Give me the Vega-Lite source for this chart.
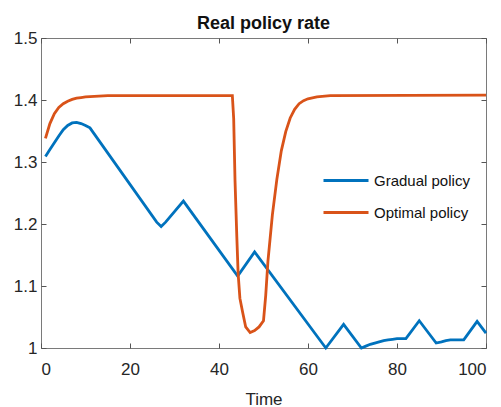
{
  "$schema": "https://vega.github.io/schema/vega-lite/v6.json",
  "width": 445,
  "height": 310,
  "autosize": {"type": "none"},
  "padding": {"left": 41, "top": 38, "right": 15, "bottom": 59},
  "background": "white",
  "config": {
    "font": "Liberation Sans",
    "view": {"stroke": "#7a7a7a", "strokeWidth": 1},
    "axis": {"grid": false, "domain": false, "tickColor": "#555555", "tickWidth": 1, "labelColor": "#262626", "labelFont": "Liberation Sans", "labelFontSize": 17, "titleFont": "Liberation Sans", "titleColor": "#262626", "titleFontSize": 17, "titleFontWeight": "normal"}
  },
  "title": {"text": "Real policy rate", "font": "Liberation Sans", "fontSize": 18, "fontWeight": "bold", "color": "#111111", "anchor": "middle", "baseline": "bottom", "offset": 0, "dy": 22},
  "data": {"values": [
    {"t": 1, "v": 1.309, "s": "Gradual policy"},
    {"t": 2, "v": 1.320, "s": "Gradual policy"},
    {"t": 3, "v": 1.331, "s": "Gradual policy"},
    {"t": 4, "v": 1.342, "s": "Gradual policy"},
    {"t": 5, "v": 1.352, "s": "Gradual policy"},
    {"t": 6, "v": 1.359, "s": "Gradual policy"},
    {"t": 7, "v": 1.363, "s": "Gradual policy"},
    {"t": 8, "v": 1.364, "s": "Gradual policy"},
    {"t": 9, "v": 1.362, "s": "Gradual policy"},
    {"t": 10, "v": 1.359, "s": "Gradual policy"},
    {"t": 11, "v": 1.355, "s": "Gradual policy"},
    {"t": 26, "v": 1.203, "s": "Gradual policy"},
    {"t": 27, "v": 1.196, "s": "Gradual policy"},
    {"t": 28, "v": 1.203, "s": "Gradual policy"},
    {"t": 32, "v": 1.237, "s": "Gradual policy"},
    {"t": 44.2, "v": 1.116, "s": "Gradual policy"},
    {"t": 48, "v": 1.155, "s": "Gradual policy"},
    {"t": 64, "v": 1.0, "s": "Gradual policy"},
    {"t": 68, "v": 1.038, "s": "Gradual policy"},
    {"t": 72, "v": 1.0, "s": "Gradual policy"},
    {"t": 73, "v": 1.003, "s": "Gradual policy"},
    {"t": 74, "v": 1.006, "s": "Gradual policy"},
    {"t": 75, "v": 1.008, "s": "Gradual policy"},
    {"t": 76, "v": 1.010, "s": "Gradual policy"},
    {"t": 77, "v": 1.012, "s": "Gradual policy"},
    {"t": 78, "v": 1.013, "s": "Gradual policy"},
    {"t": 79, "v": 1.014, "s": "Gradual policy"},
    {"t": 80, "v": 1.015, "s": "Gradual policy"},
    {"t": 82, "v": 1.015, "s": "Gradual policy"},
    {"t": 85, "v": 1.044, "s": "Gradual policy"},
    {"t": 88.8, "v": 1.008, "s": "Gradual policy"},
    {"t": 90, "v": 1.010, "s": "Gradual policy"},
    {"t": 91, "v": 1.012, "s": "Gradual policy"},
    {"t": 92, "v": 1.013, "s": "Gradual policy"},
    {"t": 95, "v": 1.013, "s": "Gradual policy"},
    {"t": 98, "v": 1.043, "s": "Gradual policy"},
    {"t": 100, "v": 1.024, "s": "Gradual policy"},
    {"t": 1, "v": 1.338, "s": "Optimal policy"},
    {"t": 2, "v": 1.362, "s": "Optimal policy"},
    {"t": 3, "v": 1.378, "s": "Optimal policy"},
    {"t": 4, "v": 1.388, "s": "Optimal policy"},
    {"t": 5, "v": 1.394, "s": "Optimal policy"},
    {"t": 6, "v": 1.398, "s": "Optimal policy"},
    {"t": 7, "v": 1.401, "s": "Optimal policy"},
    {"t": 8, "v": 1.403, "s": "Optimal policy"},
    {"t": 9, "v": 1.404, "s": "Optimal policy"},
    {"t": 10, "v": 1.405, "s": "Optimal policy"},
    {"t": 12, "v": 1.406, "s": "Optimal policy"},
    {"t": 15, "v": 1.407, "s": "Optimal policy"},
    {"t": 43, "v": 1.407, "s": "Optimal policy"},
    {"t": 43.3, "v": 1.37, "s": "Optimal policy"},
    {"t": 43.6, "v": 1.27, "s": "Optimal policy"},
    {"t": 44, "v": 1.18, "s": "Optimal policy"},
    {"t": 44.3, "v": 1.12, "s": "Optimal policy"},
    {"t": 44.7, "v": 1.08, "s": "Optimal policy"},
    {"t": 45.3, "v": 1.058, "s": "Optimal policy"},
    {"t": 46, "v": 1.034, "s": "Optimal policy"},
    {"t": 47, "v": 1.025, "s": "Optimal policy"},
    {"t": 48, "v": 1.028, "s": "Optimal policy"},
    {"t": 49, "v": 1.034, "s": "Optimal policy"},
    {"t": 50, "v": 1.044, "s": "Optimal policy"},
    {"t": 50.5, "v": 1.085, "s": "Optimal policy"},
    {"t": 51, "v": 1.14, "s": "Optimal policy"},
    {"t": 52, "v": 1.215, "s": "Optimal policy"},
    {"t": 53, "v": 1.272, "s": "Optimal policy"},
    {"t": 54, "v": 1.318, "s": "Optimal policy"},
    {"t": 55, "v": 1.349, "s": "Optimal policy"},
    {"t": 56, "v": 1.371, "s": "Optimal policy"},
    {"t": 57, "v": 1.385, "s": "Optimal policy"},
    {"t": 58, "v": 1.394, "s": "Optimal policy"},
    {"t": 59, "v": 1.399, "s": "Optimal policy"},
    {"t": 60, "v": 1.402, "s": "Optimal policy"},
    {"t": 62, "v": 1.405, "s": "Optimal policy"},
    {"t": 65, "v": 1.407, "s": "Optimal policy"},
    {"t": 100, "v": 1.408, "s": "Optimal policy"}
  ]},
  "layer": [
    {
      "mark": {"type": "line", "strokeWidth": 2.8},
      "encoding": {
        "x": {"field": "t", "type": "quantitative", "scale": {"domain": [0, 100], "nice": false, "zero": false}, "axis": {"orient": "bottom", "values": [0, 20, 40, 60, 80, 100], "tickSize": -5, "labelPadding": 18, "title": "Time", "titleBaseline": "alphabetic", "titleY": 56}},
        "y": {"field": "v", "type": "quantitative", "scale": {"domain": [1, 1.5], "nice": false, "zero": false}, "axis": {"orient": "left", "values": [1, 1.1, 1.2, 1.3, 1.4, 1.5], "format": ".2~f", "tickSize": -5, "labelPadding": 9, "title": null}},
        "color": {"field": "s", "type": "nominal", "scale": {"domain": ["Gradual policy", "Optimal policy"], "range": ["#0072BD", "#D95319"]}, "legend": {"title": null, "orient": "none", "legendX": 281, "legendY": 118.5, "padding": 0, "symbolType": "stroke", "symbolSize": 2025, "symbolStrokeWidth": 3, "rowPadding": -15, "labelOffset": 4, "labelFont": "Liberation Sans", "labelFontSize": 15, "labelColor": "#111111"}}
      }
    },
    {
      "mark": {"type": "point", "opacity": 0},
      "encoding": {
        "x": {"field": "t", "type": "quantitative", "axis": {"orient": "top", "values": [0, 20, 40, 60, 80, 100], "tickSize": -5, "labels": false, "title": null}},
        "y": {"field": "v", "type": "quantitative", "axis": {"orient": "right", "values": [1, 1.1, 1.2, 1.3, 1.4, 1.5], "tickSize": -5, "labels": false, "title": null}}
      }
    }
  ],
  "resolve": {"axis": {"x": "independent", "y": "independent"}}
}
